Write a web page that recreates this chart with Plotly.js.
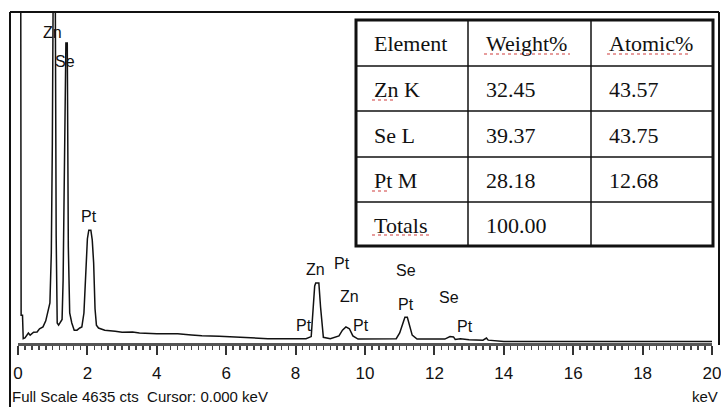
<!DOCTYPE html>
<html>
<head>
<meta charset="utf-8">
<script src="https://cdn.plot.ly/plotly-3.0.1.min.js"></script>
<style>html,body{margin:0;padding:0;background:#fff;}#chart{width:721px;height:407px;}</style>
</head>
<body>
<div id="chart"></div>
<script>
// ---- Spectrum data (energy in keV, counts) ----
const energyKeV = [0.0, 0.07, 0.09, 0.13, 0.15, 0.2, 0.3, 0.35, 0.45, 0.55, 0.62, 0.72, 0.8, 0.86, 0.92, 0.96, 0.99, 1.02, 1.07, 1.1, 1.13, 1.17, 1.22, 1.27, 1.3, 1.34, 1.38, 1.42, 1.45, 1.49, 1.55, 1.62, 1.7, 1.78, 1.84, 1.9, 1.96, 2.0, 2.04, 2.1, 2.14, 2.18, 2.22, 2.26, 2.32, 2.5, 2.8, 3.0, 3.3, 3.5, 4.0, 4.3, 4.6, 5.0, 5.3, 5.8, 6.2, 6.6, 6.9, 7.2, 7.6, 8.0, 8.3, 8.45, 8.5, 8.55, 8.58, 8.67, 8.72, 8.76, 8.8, 9.0, 9.25, 9.35, 9.45, 9.55, 9.65, 9.8, 10.5, 10.9, 11.0, 11.08, 11.15, 11.22, 11.28, 11.36, 11.5, 12.3, 12.45, 12.55, 12.6, 12.75, 13.0, 13.4, 13.5, 13.55, 14.0, 20.0];
const counts = [9000, 9000, 390, 390, 60, 70, 140, 110, 150, 155, 200, 225, 310, 420, 560, 1260, 2800, 5500, 5500, 1500, 280, 250, 300, 330, 880, 2500, 4200, 4200, 1350, 420, 280, 180, 180, 210, 225, 420, 1120, 1460, 1580, 1580, 1440, 1120, 480, 250, 210, 180, 165, 150, 155, 140, 130, 125, 130, 112, 100, 95, 85, 70, 70, 60, 60, 60, 60, 90, 500, 800, 840, 840, 500, 320, 80, 60, 100, 180, 225, 200, 100, 55, 55, 60, 140, 250, 360, 360, 250, 110, 55, 55, 90, 85, 50, 60, 45, 40, 70, 40, 20, 20];
const fullScale = 4635;

// ---- Peak labels ----
const peakLabels = ["Zn", "Se", "Pt", "Zn", "Pt", "Zn", "Pt", "Pt", "Se", "Pt", "Se", "Pt"];
const peakLabelKeV = [0.98, 1.35, 2.05, 8.56, 9.34, 9.54, 8.24, 9.88, 11.18, 11.18, 12.42, 12.88];
const peakLabelCounts = [4354, 3948, 1778, 1036, 1120, 658, 252, 252, 1022, 546, 644, 238];

// ---- Axis ticks ----
const tickValues = [0, 2, 4, 6, 8, 10, 12, 14, 16, 18, 20];
const tickLabels = ["0", "2", "4", "6", "8", "10", "12", "14", "16", "18", "20"];

// ---- Table ----
const tableHeader = ["Element", "Weight%", "Atomic%"];
const tableElements = ["Zn K", "Se L", "Pt M", "Totals"];
const tableWeight = ["32.45", "39.37", "28.18", "100.00"];
const tableAtomic = ["43.57", "43.75", "12.68", ""];

const statusText = "Full Scale 4635 cts  Cursor: 0.000 keV";

// ---- geometry helpers (pixel -> paper) ----
const W = 721, H = 407;
const M = {l: 18, r: 9, t: 12, b: 64};
const PW = W - M.l - M.r, PH = H - M.t - M.b;
const px = x => (x - M.l) / PW;
const py = y => (H - M.b - y) / PH;

const serif = "Liberation Serif, Times New Roman, serif";
const sans = "Liberation Sans, Arial, sans-serif";

const shapes = [];
const annotations = [];

// outer frame
shapes.push({type: 'line', xref: 'paper', yref: 'paper', x0: px(10), x1: px(10), y0: py(12), y1: py(407), line: {color: '#111', width: 2}});
shapes.push({type: 'line', xref: 'paper', yref: 'paper', x0: px(10), x1: px(719), y0: py(12), y1: py(12), line: {color: '#111', width: 2}});
shapes.push({type: 'line', xref: 'paper', yref: 'paper', x0: px(719), x1: px(719), y0: py(12), y1: py(345), line: {color: '#111', width: 2}});

// table geometry
const tL = 356, tR = 713, tT = 20, tB = 246;
const colX = [tL, 468, 591, tR];
const rowY = [tT, 66, 111, 157, 202, tB];
shapes.push({type: 'rect', xref: 'paper', yref: 'paper', x0: px(tL), x1: px(tR), y0: py(tT), y1: py(tB), fillcolor: '#fff', line: {width: 0}});
for (let i = 1; i < rowY.length - 1; i++) {
  shapes.push({type: 'line', xref: 'paper', yref: 'paper', x0: px(tL), x1: px(tR), y0: py(rowY[i]), y1: py(rowY[i]), line: {color: '#111', width: 1.5}});
}
for (let j = 1; j < colX.length - 1; j++) {
  shapes.push({type: 'line', xref: 'paper', yref: 'paper', x0: px(colX[j]), x1: px(colX[j]), y0: py(tT), y1: py(tB), line: {color: '#111', width: 1.5}});
}
shapes.push({type: 'rect', xref: 'paper', yref: 'paper', x0: px(tL), x1: px(tR), y0: py(tT), y1: py(tB), line: {color: '#111', width: 3}});

const textX = [372, 484, 607];
const cellRows = [tableHeader].concat(tableElements.map((e, i) => [e, tableWeight[i], tableAtomic[i]]));
cellRows.forEach((row, r) => {
  const cy = (rowY[r] + rowY[r + 1]) / 2 + 1;
  row.forEach((txt, c) => {
    if (!txt) return;
    annotations.push({xref: 'paper', yref: 'paper', x: px(textX[c]), y: py(cy), xanchor: 'left', yanchor: 'middle', text: txt, showarrow: false, font: {family: serif, size: 22, color: '#111'}});
  });
});

// spell-check squiggles
const squiggles = [[484, 570, 54], [607, 690, 54], [372, 395, 100], [372, 390, 191], [372, 430, 235]];
squiggles.forEach(s => shapes.push({type: 'line', xref: 'paper', yref: 'paper', x0: px(s[0]), x1: px(s[1]), y0: py(s[2]), y1: py(s[2]), line: {color: 'rgba(210,70,70,0.7)', width: 1.5, dash: 'dot'}}));

// peak labels
peakLabels.forEach((t, i) => annotations.push({x: peakLabelKeV[i], y: peakLabelCounts[i], xref: 'x', yref: 'y', text: t, showarrow: false, xanchor: 'center', yanchor: 'middle', font: {family: sans, size: 16, color: '#111'}}));

// status bar
annotations.push({xref: 'paper', yref: 'paper', x: px(10), y: py(396), xanchor: 'left', yanchor: 'middle', text: statusText, showarrow: false, font: {family: sans, size: 15, color: '#111'}});
annotations.push({xref: 'paper', yref: 'paper', x: px(720), y: py(396), xanchor: 'right', yanchor: 'middle', text: 'keV', showarrow: false, font: {family: sans, size: 15, color: '#111'}});

const trace = {
  x: energyKeV, y: counts, type: 'scatter', mode: 'lines',
  line: {color: '#111', width: 1.5}, hoverinfo: 'skip'
};

const layout = {
  width: W, height: H,
  margin: M,
  paper_bgcolor: '#fff', plot_bgcolor: '#fff',
  showlegend: false,
  xaxis: {
    range: [0, 20], autorange: false, automargin: false,
    tickvals: tickValues, ticktext: tickLabels,
    ticks: 'outside', ticklen: 9, tickwidth: 2, tickcolor: '#333',
    minor: {dtick: 0.2, tick0: 0, ticks: 'outside', ticklen: 4, tickwidth: 1.5, tickcolor: '#444', showgrid: false},
    showline: true, linecolor: '#555', linewidth: 3,
    showgrid: false, zeroline: false,
    tickfont: {family: sans, size: 17, color: '#111'},
    ticklabelstandoff: 4,
    ticklabeloverflow: 'allow'
  },
  yaxis: {
    range: [0, fullScale], autorange: false, automargin: false,
    visible: false, showgrid: false, zeroline: false
  },
  shapes: shapes,
  annotations: annotations
};

Plotly.newPlot('chart', [trace], layout, {staticPlot: true, displayModeBar: false});
</script>
</body>
</html>
